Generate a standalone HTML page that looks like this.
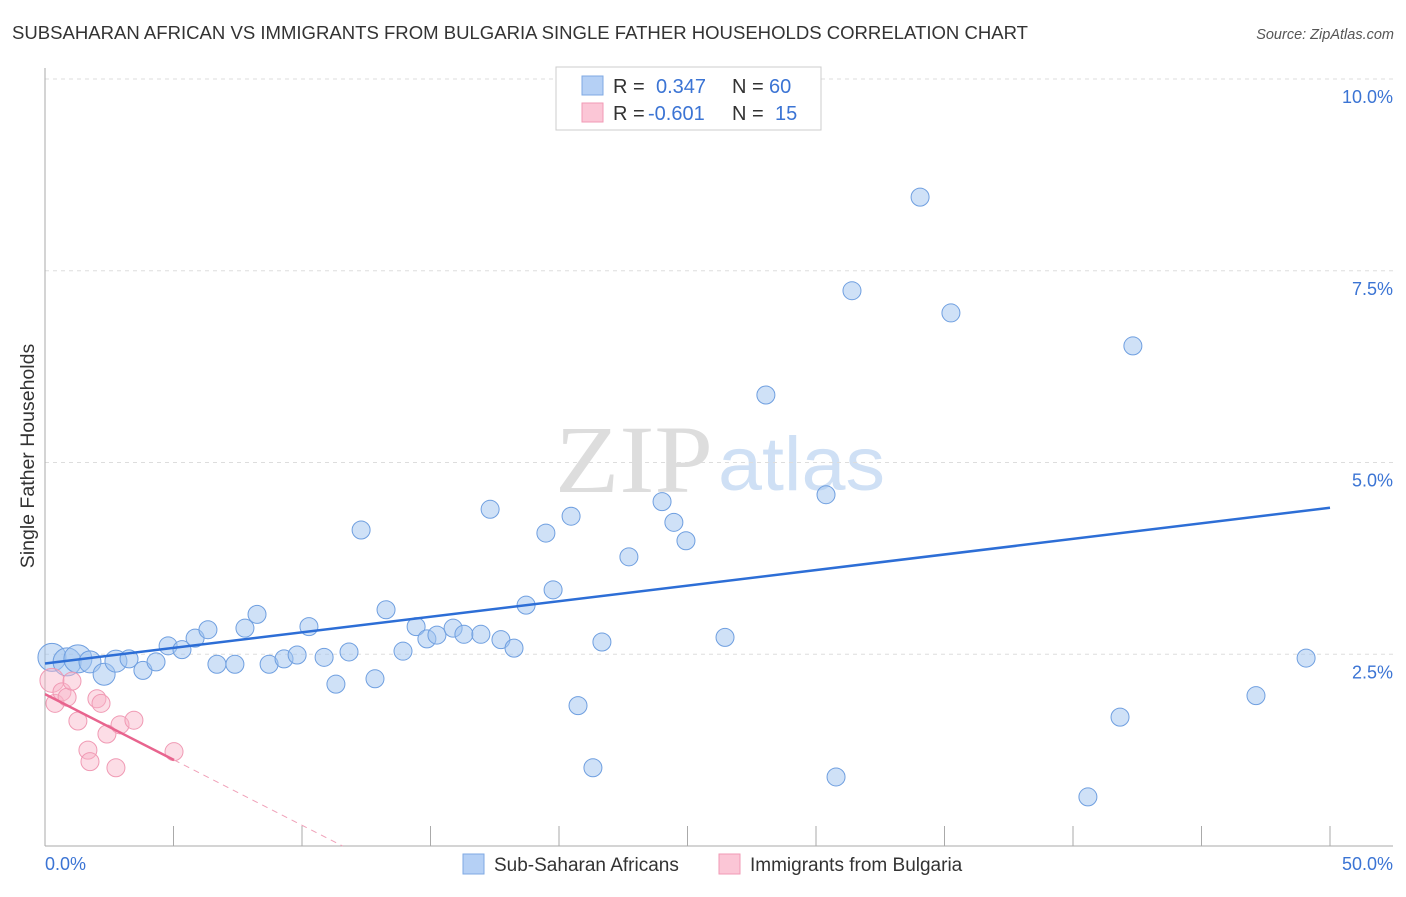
<!DOCTYPE html>
<html><head><meta charset="utf-8"><style>
body{margin:0;background:#fff;width:1406px;height:892px;overflow:hidden;font-family:"Liberation Sans",sans-serif}
svg text{font-family:"Liberation Sans",sans-serif}
</style></head><body>
<svg id="chart" width="1406" height="892">
<text x="12" y="39" font-size="18.5" fill="#333" textLength="1016" lengthAdjust="spacingAndGlyphs">SUBSAHARAN AFRICAN VS IMMIGRANTS FROM BULGARIA SINGLE FATHER HOUSEHOLDS CORRELATION CHART</text>
<text x="1394" y="39" font-size="14.5" font-style="italic" fill="#555" text-anchor="end">Source: ZipAtlas.com</text>
<text x="555" y="492" font-size="96" fill="#ddd" textLength="158" lengthAdjust="spacingAndGlyphs" font-family="Liberation Serif" style="font-family:'Liberation Serif',serif">ZIP</text>
<text x="718" y="490" font-size="76" fill="#cfe0f5" textLength="167" lengthAdjust="spacingAndGlyphs">atlas</text>
<g id="grid"></g><g id="axes"></g><g id="marks"></g>
<text x="34" y="456" font-size="19.5" fill="#333" text-anchor="middle" transform="rotate(-90 34 456)">Single Father Households</text>
<g>
<rect x="556" y="67" width="265" height="63" fill="#fff" stroke="#ccc"/>
<rect x="582" y="76" width="21" height="19" fill="#b5d0f5" stroke="#7fa9e3"/>
<rect x="582" y="103" width="21" height="19" fill="#fbc6d6" stroke="#f19ab5"/>
<text x="613" y="93" font-size="20" fill="#333">R =</text><text x="656" y="93" font-size="20" fill="#3b74d4">0.347</text>
<text x="732" y="93" font-size="20" fill="#333">N =</text><text x="769" y="93" font-size="20" fill="#3b74d4">60</text>
<text x="613" y="120" font-size="20" fill="#333">R =</text><text x="648" y="120" font-size="20" fill="#3b74d4">-0.601</text>
<text x="732" y="120" font-size="20" fill="#333">N =</text><text x="775" y="120" font-size="20" fill="#3b74d4">15</text>
</g>
<g>
<rect x="463" y="854" width="21" height="20" fill="#b5d0f5" stroke="#7fa9e3"/>
<text x="494" y="871" font-size="19" fill="#333">Sub-Saharan Africans</text>
<rect x="719" y="854" width="21" height="20" fill="#fbc6d6" stroke="#f19ab5"/>
<text x="750" y="871" font-size="19" fill="#333">Immigrants from Bulgaria</text>
</g>
</svg>
<script>
const blueX=[0.27,0.86,1.28,1.75,2.30,2.76,3.27,3.81,4.32,4.79,5.33,5.84,6.34,6.69,7.39,7.78,8.25,8.72,9.30,9.81,10.27,10.86,11.32,11.83,12.30,12.84,13.27,13.93,14.44,14.86,15.25,15.88,16.30,16.96,17.32,17.74,18.25,18.72,19.49,19.77,20.47,20.74,21.32,21.67,22.72,24.01,24.47,24.94,26.46,28.05,30.39,30.78,31.40,34.05,35.25,40.58,41.83,42.33,47.12,49.07];
const blueY=[2.46,2.40,2.44,2.40,2.24,2.41,2.44,2.29,2.40,2.61,2.56,2.71,2.82,2.37,2.37,2.84,3.02,2.37,2.44,2.49,2.86,2.46,2.11,2.53,4.12,2.18,3.08,2.54,2.86,2.70,2.75,2.84,2.76,2.76,4.39,2.69,2.58,3.14,4.08,3.34,4.30,1.83,1.02,2.66,3.77,4.49,4.22,3.98,2.72,5.88,4.58,0.90,7.24,8.46,6.95,0.64,1.68,6.52,1.96,2.45];
const pinkX=[0.27,0.39,0.66,0.86,1.05,1.28,1.67,1.75,2.02,2.18,2.41,2.76,2.92,3.46,5.02];
const pinkY=[2.16,1.86,2.01,1.94,2.15,1.63,1.25,1.10,1.92,1.86,1.46,1.02,1.58,1.64,1.23];
const blueTrend=[2.38,4.41];
const pinkTrend=[1.98,-0.171];
const yTicks=[2.5,5.0,7.5,10.0];
const xTicks=[0,5,10,15,20,25,30,35,40,45,50];
const sx=v=>45+v*25.7, sy=v=>846-v*76.7;
const NS='http://www.w3.org/2000/svg';
function mk(p,t,a){const e=document.createElementNS(NS,t);for(const k in a)e.setAttribute(k,a[k]);p.appendChild(e);return e;}
const grid=document.getElementById('grid'),axes=document.getElementById('axes'),marks=document.getElementById('marks');
yTicks.forEach(v=>{
 const l=mk(grid,'line',{x1:45,x2:1393,y1:sy(v),y2:sy(v),stroke:'#ddd','stroke-dasharray':'4 4'});
 
 
 const t=mk(axes,'text',{x:1393,y:sy(v)+24,'font-size':18,fill:'#3b74d4','text-anchor':'end'});t.textContent=v.toFixed(1)+'%';
 
 
});
mk(axes,'line',{x1:45,x2:45,y1:68,y2:846,stroke:'#aaa'});
mk(axes,'line',{x1:45,x2:1393,y1:846,y2:846,stroke:'#aaa'});
xTicks.forEach(v=>{const l=mk(axes,'line',{x1:sx(v),x2:sx(v),y1:826,y2:846,stroke:'#aaa'});
 
 });
[[0,'start',45],[50,'end',1393]].forEach(([v,a,x])=>{const t=mk(axes,'text',{x:x,y:870,'font-size':18,fill:'#3b74d4','text-anchor':a});t.textContent=v.toFixed(1)+'%';
 
 });
blueX.forEach((x,i)=>{const r=i<3?14:(i<6?11:9);
 const c=mk(marks,'circle',{cx:sx(x),cy:sy(blueY[i]),r:r,fill:'rgba(160,196,240,0.5)',stroke:'#6f9fe0','stroke-width':1});
 
 });
pinkX.forEach((x,i)=>{const r=i==0?12:9;
 const c=mk(marks,'circle',{cx:sx(x),cy:sy(pinkY[i]),r:r,fill:'rgba(248,180,200,0.45)',stroke:'#f09ab4','stroke-width':1});
 
 });
const bt=mk(marks,'line',{x1:sx(0),y1:sy(blueTrend[0]),x2:sx(50),y2:sy(blueTrend[1]),stroke:'#2d6ed6','stroke-width':2.5});


const pe=sx(5.02),pv=pinkTrend[0]+pinkTrend[1]*5.02, z=-pinkTrend[0]/pinkTrend[1];
const pt=mk(marks,'line',{x1:sx(0),y1:sy(pinkTrend[0]),x2:pe,y2:sy(pv),stroke:'#e8648e','stroke-width':2.5});


const pd=mk(marks,'line',{x1:pe,y1:sy(pv),x2:sx(z),y2:sy(0),stroke:'#f0a0b8','stroke-width':1,'stroke-dasharray':'6 5'});


</script>
</body></html>
